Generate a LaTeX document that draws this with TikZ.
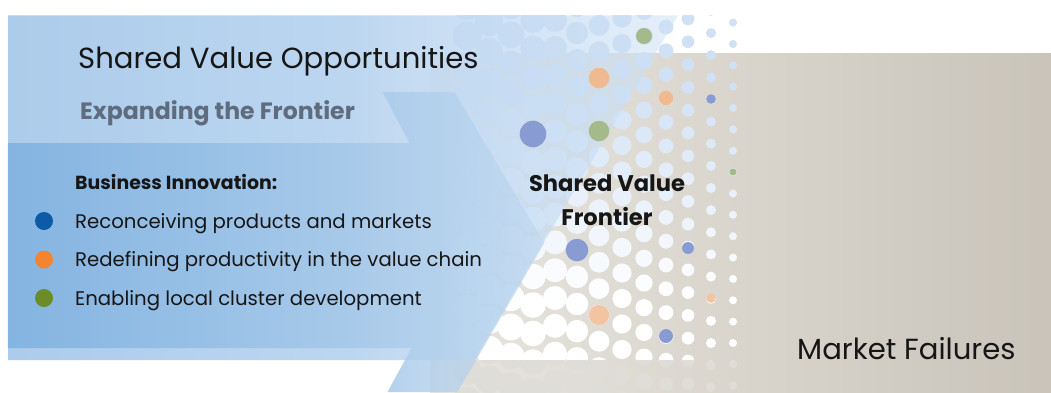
\documentclass[tikz,border=0pt]{standalone}
\usepackage{fontspec}
\setmainfont{Poppins}
\usetikzlibrary{fadings}

\definecolor{boxblue}{RGB}{172,204,235}
\definecolor{boxlight}{RGB}{204,224,245}
\definecolor{bandblue}{RGB}{132,180,225}
\definecolor{dotblue}{RGB}{208,224,245}
\definecolor{dotgray}{RGB}{223,221,215}
\definecolor{graylite}{RGB}{246,245,242}
\definecolor{graymid}{RGB}{226,223,216}
\definecolor{graydark}{RGB}{186,179,167}
\definecolor{slate}{RGB}{94,108,126}
\definecolor{inkblack}{RGB}{22,22,22}
\definecolor{innovblue}{RGB}{12,90,168}
\definecolor{innovorange}{RGB}{243,132,48}
\definecolor{innovgreen}{RGB}{107,140,38}
\definecolor{spotblue}{RGB}{136,156,211}
\definecolor{spotorange}{RGB}{240,186,144}
\definecolor{spotgreen}{RGB}{165,186,139}

\pgfdeclarehorizontalshading{grayshade}{100bp}{color(0bp)=(graylite); color(35bp)=(graymid); color(100bp)=(graydark)}
\pgfdeclarehorizontalshading{boxfadeshade}{100bp}{color(0bp)=(white); color(50bp)=(white); color(100bp)=(black)}
\pgfdeclarehorizontalshading{chevfadeshade}{100bp}{color(0bp)=(white); color(55bp)=(white); color(100bp)=(black)}
\tikzfading[name=boxfade, shading=boxfadeshade]
\tikzfading[name=chevfade, shading=chevfadeshade]

% one pass over the dot columns: x / first y / row step / radius
\newcommand{\dotfield}[1]{%
	\foreach \cx/\cy/\dy/\r in {733/22.6/21.36/4, 711/10.9/22.14/5, 688/19/22.8/6.3,
			666/27/23.8/7.4, 644/36/24.7/8.6, 622/18/25.5/9.6, 599/25.3/26.33/10.4,
			577/33/27.1/11.2, 555/20/27.8/12, 533/20/28.5/12.8, 511/35/29.2/13.4,
			489/22/29.8/14, 467/36/30.4/14.5}
		\foreach \k in {-1,...,18} {
			\pgfmathsetmacro\yy{\cy+\k*\dy}
			\pgfmathsetmacro\p{max(0,min(100,(300-\yy)/2.2))}
			\fill[#1] (\cx,\yy) circle[radius=\r pt];
		}%
}

\begin{document}
\begin{tikzpicture}[x=1pt, y=-1pt,
		titletext/.style={inner sep=0pt, text=inkblack, font=\fontsize{29.1}{31}\selectfont},
		subtext/.style={inner sep=0pt, text=slate, font=\fontsize{23.6}{26}\selectfont\bfseries},
		headtext/.style={inner sep=0pt, text=inkblack, font=\fontsize{18.9}{21}\selectfont\bfseries},
		itemtext/.style={inner sep=0pt, text=inkblack, font=\fontsize{19.7}{22}\selectfont},
		fronttext/.style={inner sep=0pt, text=inkblack, align=center, font=\fontsize{22.6}{34}\selectfont\bfseries},
		bulletdot/.style={circle, inner sep=0pt, minimum size=18pt},
		spot/.style={fill=#1}]
	\fill[white] (0,0) rectangle (1051,392);
	\useasboundingbox (0,0) rectangle (1051,392);

	\shade[shading=grayshade] (430,53) rectangle (1051,392);

	\begin{scope}
		\clip (440,15) rectangle (760,360);
		\dotfield{dotblue!\p!white}
	\end{scope}
	\begin{scope}
		\clip (440,360) rectangle (760,392);
		\dotfield{dotgray}
	\end{scope}

	\shade[left color=boxblue, right color=boxlight, path fading=boxfade]
		(8,15) -- (678,15) -- (474,360) -- (8,360) -- cycle;
	\shade[left color=bandblue, right color=bandblue!55!white, path fading=chevfade]
		(8,143) -- (410,143) -- (383,92) -- (455,92) -- (545,243)
		-- (458,392) -- (388,392) -- (412,348) -- (8,348) -- cycle;

	\foreach \sx/\sy/\sr/\sc in {644/36/8/spotgreen, 599/78/10.3/spotorange,
			666/98/7.2/spotorange, 711/99/4.8/spotblue, 533/134/13.3/spotblue,
			599/131/10.3/spotgreen, 733/172/3.5/spotgreen, 577/250/11.3/spotblue,
			688/248/6/spotblue, 711/298/4.8/spotorange!85!white, 599/315/10.2/spotorange!85!white,
			666/336/7/spotblue}
		\fill[spot=\sc] (\sx,\sy) circle[radius=\sr pt];

	\node[titletext, anchor=base west] (opps) at (78,68) {Shared Value Opportunities};
	\node[subtext, anchor=base west] (expand) at (80,119) {Expanding the Frontier};
	\node[headtext, anchor=base west] (innov) at (75,189) {Business Innovation:};

	\foreach \c/\t [count=\i] in {innovblue/Reconceiving products and markets,
			innovorange/Redefining productivity in the value chain,
			innovgreen/Enabling local cluster development} {
		\pgfmathsetmacro\yb{221+(\i-1)*38.5}
		\node[bulletdot, fill=\c] (bullet\i) at (44,\yb) {};
		\node[itemtext, anchor=base west] (item\i) at (75,\yb+7) {\t};
	}

	\node[fronttext] (frontier) at (607,200) {Shared Value\\Frontier};
	\node[titletext, anchor=base west] (market) at (797,359) {Market Failures};
\end{tikzpicture}
\end{document}
